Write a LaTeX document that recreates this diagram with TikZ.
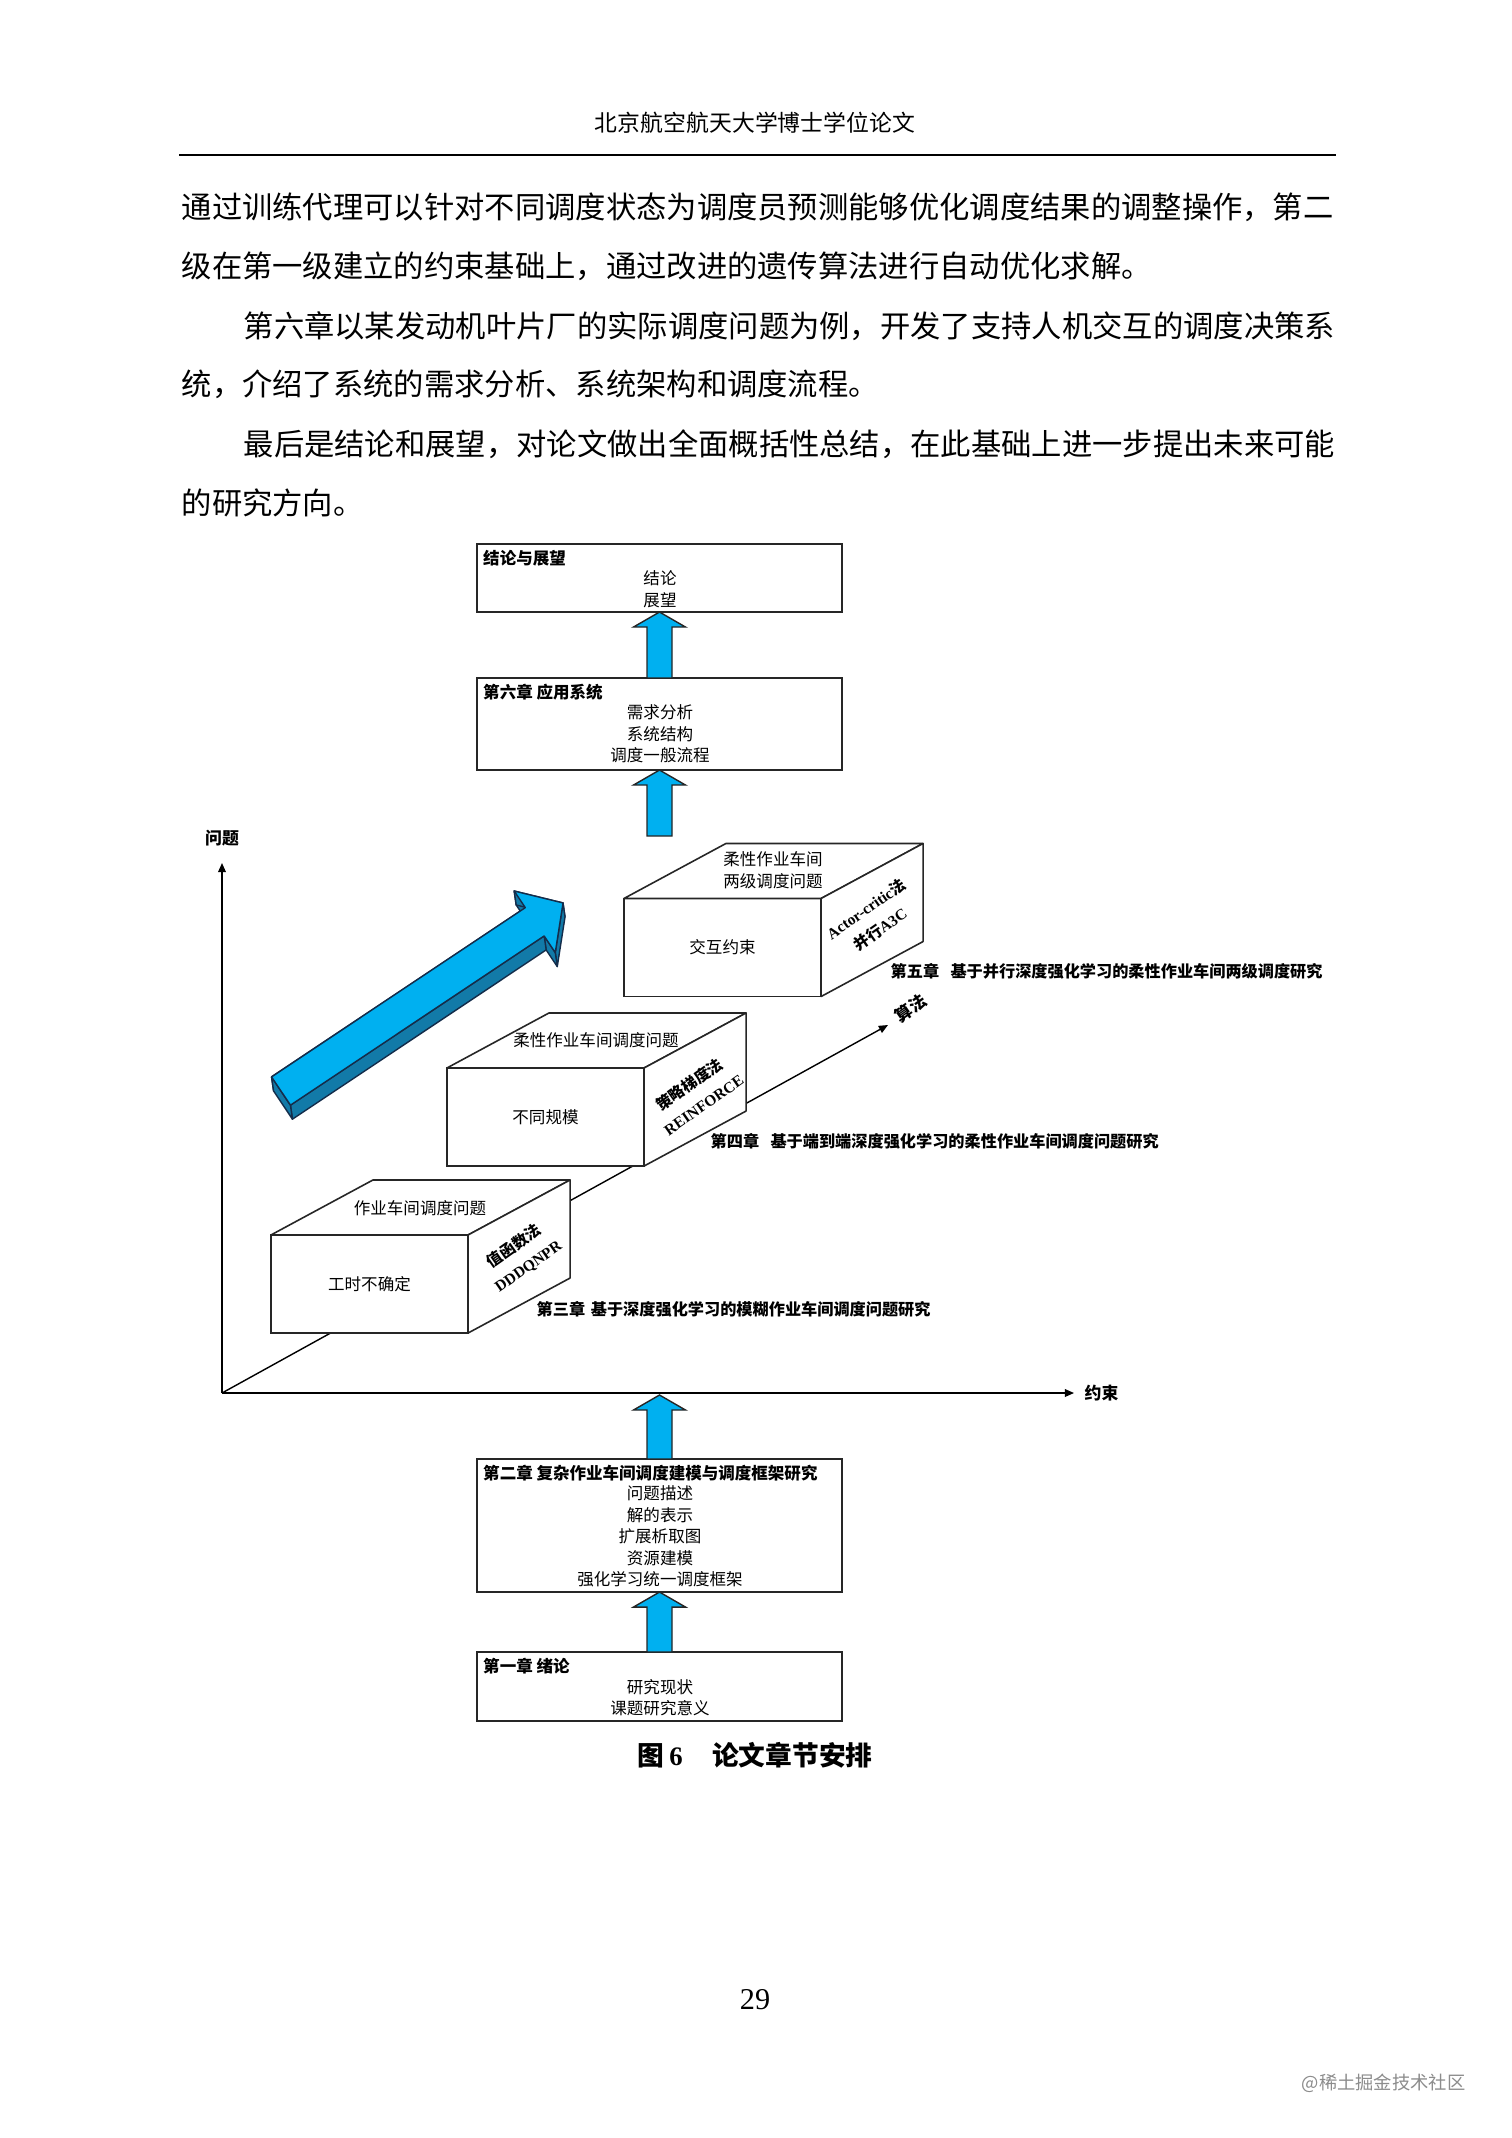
\documentclass[tikz,border=0pt]{standalone}
\usepackage{fontspec}
\setmainfont{Noto Sans CJK SC}
\newfontfamily\tnr{Liberation Serif}
\usetikzlibrary{positioning, arrows.meta, calc}

\definecolor{blkblue}{RGB}{0,176,240}
\definecolor{sideblue}{RGB}{18,122,168}
\definecolor{edgeblue}{RGB}{20,45,75}

% block arrow from the lower node (#1) up to the upper one (#2)
\newcommand{\blockarrow}[2]{%
  \filldraw[blk] ($(#1)+(-12.5,0)$) -- ($(#2)+(-12.5,15)$) -- ($(#2)+(-26,15)$) -- (#2)
    -- ($(#2)+(26,15)$) -- ($(#2)+(12.5,15)$) -- ($(#1)+(12.5,0)$) -- cycle;}

\begin{document}
\begin{tikzpicture}[
  x=0.01cm, y=-0.01cm,
  bodyln/.style={anchor=west, inner sep=0pt, font=\fontsize{8.62}{10}\selectfont},
  chbox/.style={draw=black!85, line width=0.45pt, minimum width=3.65cm, inner sep=0pt, outer sep=0pt},
  ttl/.style={anchor=north west, inner sep=1.6pt, font=\bfseries\fontsize{4.7}{6}\selectfont},
  cont/.style={align=center, inner sep=0pt, font=\fontsize{4.7}{6.1}\selectfont},
  blk/.style={fill=blkblue, draw=black!85, line width=0.4pt},
  cubefront/.style={draw=black!85, fill=white, line width=0.45pt, minimum width=1.97cm, minimum height=0.98cm,
    inner sep=0pt, outer sep=0pt, font=\fontsize{4.7}{6}\selectfont},
  cubeface/.style={draw=black!85, fill=white, line width=0.45pt, line join=round},
  cubetxt/.style={align=center, inner sep=0pt, font=\fontsize{4.7}{6.1}\selectfont},
  sidetxt/.style={align=center, inner sep=0pt, rotate=35, font=\bfseries\fontsize{4.4}{7}\selectfont},
  chlbl/.style={anchor=west, inner sep=0pt, font=\bfseries\fontsize{4.6}{6}\selectfont},
  axlbl/.style={inner sep=0pt, font=\bfseries\fontsize{4.8}{6}\selectfont},
  axis/.style={line width=0.4pt, -{Triangle[length=2.6pt, width=2.2pt]}},
  arrtop/.style={fill=blkblue, draw=edgeblue, line width=0.4pt, line join=round},
  arrside/.style={fill=sideblue, draw=edgeblue, line width=0.4pt, line join=round}
]
\useasboundingbox (0,0) rectangle (1512,2138);
\fill[white] (0,0) rectangle (1512,2138);

% page head and text
\node[inner sep=0pt, font=\fontsize{6.5}{8}\selectfont] (head) at (755,123) {北京航空航天大学博士学位论文};
\draw[line width=0.5pt] (179,155) -- (1336,155);
\node[bodyln] (p1) at (181,207) {通过训练代理可以针对不同调度状态为调度员预测能够优化调度结果的调整操作，第二};
\node[bodyln] (p2) at (181,266) {级在第一级建立的约束基础上，通过改进的遗传算法进行自动优化求解。};
\node[bodyln] (p3) at (243,326) {第六章以某发动机叶片厂的实际调度问题为例，开发了支持人机交互的调度决策系};
\node[bodyln] (p4) at (181,384) {统，介绍了系统的需求分析、系统架构和调度流程。};
\node[bodyln] (p5) at (243,444) {最后是结论和展望，对论文做出全面概括性总结，在此基础上进一步提出未来可能};
\node[bodyln] (p6) at (181,503) {的研究方向。};

% chapter boxes
\node[chbox, minimum height=0.68cm] (concl) at (659.5,578) {};
\node[ttl] (concl-t) at (concl.north west) {结论与展望};
\node[cont] (concl-c) at (660,589) {结论\\展望};

\node[chbox, minimum height=0.92cm] (ch6) at (659.5,724) {};
\node[ttl] (ch6-t) at (ch6.north west) {第六章 应用系统};
\node[cont] (ch6-c) at (660,734) {需求分析\\系统结构\\调度一般流程};

\node[chbox, minimum height=1.33cm] (ch2) at (659.5,1525.5) {};
\node[ttl] (ch2-t) at (ch2.north west) {第二章 复杂作业车间调度建模与调度框架研究};
\node[cont] (ch2-c) at (660,1536.5) {问题描述\\解的表示\\扩展析取图\\资源建模\\强化学习统一调度框架};

\node[chbox, minimum height=0.69cm] (ch1) at (659.5,1686.5) {};
\node[ttl] (ch1-t) at (ch1.north west) {第一章 绪论};
\node[cont] (ch1-c) at (660,1697.5) {研究现状\\课题研究意义};

\coordinate (a3) at (659.5,836);
\coordinate (ax) at (659.5,1395);
\blockarrow{ch6.north}{concl.south}
\blockarrow{a3}{ch6.south}
\blockarrow{ch2.north}{ax}
\blockarrow{ch1.north}{ch2.south}

% axes
\coordinate (o) at (222,1393);
\coordinate (yend) at (222,863);
\coordinate (xend) at (1074,1393);
\coordinate (zend) at (888,1025);
\draw[axis] (o) -- (yend);
\draw[axis] (o) -- (xend);
\draw[axis] (o) -- (zend);
\node[axlbl] (ylbl) at (222,838) {问题};
\node[axlbl, anchor=west] (xlbl) at (1084,1393) {约束};
\node[axlbl, rotate=35] (zlbl) at (911,1008) {算法};

% cubes
\node[cubefront] (c1) at (369.5,1284) {工时不确定};
\filldraw[cubeface] (c1.north west) -- ++(102,-55) -- ($(c1.north east)+(102,-55)$) -- (c1.north east) -- cycle;
\filldraw[cubeface] (c1.north east) -- ++(102,-55) -- ($(c1.south east)+(102,-55)$) -- (c1.south east) -- cycle;
\node[cubetxt] (c1top) at (420,1208) {作业车间调度问题};
\node[sidetxt] (c1side) at (521,1256) {值函数法\\{\tnr\bfseries DDDQNPR}};

\node[cubefront] (c2) at (545.5,1117) {不同规模};
\filldraw[cubeface] (c2.north west) -- ++(102,-55) -- ($(c2.north east)+(102,-55)$) -- (c2.north east) -- cycle;
\filldraw[cubeface] (c2.north east) -- ++(102,-55) -- ($(c2.south east)+(102,-55)$) -- (c2.south east) -- cycle;
\node[cubetxt] (c2top) at (596,1040) {柔性作业车间调度问题};
\node[sidetxt] (c2side) at (696,1094) {策略梯度法\\{\tnr\bfseries REINFORCE}};

\node[cubefront] (c3) at (722.5,947.5) {交互约束};
\filldraw[cubeface] (c3.north west) -- ++(102,-55) -- ($(c3.north east)+(102,-55)$) -- (c3.north east) -- cycle;
\filldraw[cubeface] (c3.north east) -- ++(102,-55) -- ($(c3.south east)+(102,-55)$) -- (c3.south east) -- cycle;
\node[cubetxt] (c3top) at (773,870) {柔性作业车间\\两级调度问题};
\node[sidetxt] (c3side) at (873,919) {{\tnr\bfseries Actor-critic}法\\并行{\tnr\bfseries A3C}};

\node[chlbl] (lbl5) at (890,971) {第五章\hspace{0.7em}基于并行深度强化学习的柔性作业车间两级调度研究};
\node[chlbl] (lbl4) at (710,1141) {第四章\hspace{0.7em}基于端到端深度强化学习的柔性作业车间调度问题研究};
\node[chlbl] (lbl3) at (536,1309) {第三章\hspace{0.35em}基于深度强化学习的模糊作业车间调度问题研究};

% 3d arrow
\begin{scope}[shift={(281,1091)}, rotate=33.7]
  \coordinate (t1) at (0,-17);   \coordinate (t2) at (305,-17); \coordinate (t3) at (305,-37);
  \coordinate (t4) at (339,0);   \coordinate (t5) at (305,37);  \coordinate (t6) at (305,17);
  \coordinate (t7) at (0,17);
\end{scope}
\begin{scope}[shift={(283,1105)}, rotate=33.7]
  \coordinate (b1) at (0,-17);   \coordinate (b2) at (305,-17); \coordinate (b3) at (305,-37);
  \coordinate (b4) at (339,0);   \coordinate (b5) at (305,37);  \coordinate (b6) at (305,17);
  \coordinate (b7) at (0,17);
\end{scope}
\foreach \i/\j in {1/2,2/3,3/4,4/5,5/6,6/7,7/1}
  \filldraw[arrside] (t\i) -- (t\j) -- (b\j) -- (b\i) -- cycle;
\filldraw[arrtop] (t1) -- (t2) -- (t3) -- (t4) -- (t5) -- (t6) -- (t7) -- cycle;

% caption, page number
\node[inner sep=0pt, font=\bfseries\fontsize{7.6}{9}\selectfont] (cap) at (755,1755)
  {图\hspace{0.2em}{\tnr\bfseries 6}\hspace{1.1em}论文章节安排};
\node[inner sep=0pt, font=\tnr\fontsize{8.6}{10}\selectfont] (pgno) at (755,2000) {29};
\node[anchor=east, inner sep=0pt, text=black!45, font=\fontsize{5.2}{6}\selectfont] (wm) at (1466,2083) {@稀土掘金技术社区};
\end{tikzpicture}
\end{document}
